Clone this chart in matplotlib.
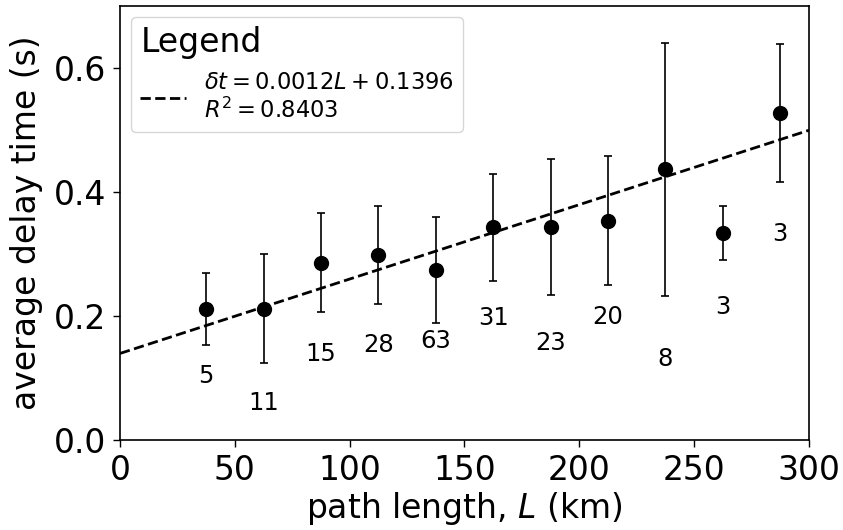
import numpy as np
import matplotlib
matplotlib.use("Agg")
import matplotlib.pyplot as plt

# binned path lengths (km), mean delay (s), std error, sample counts
path_len = [37.5, 62.5, 87.5, 112.5, 137.5, 162.5, 187.5, 212.5, 237.5, 262.5, 287.5]
mean_delay = [0.212, 0.212, 0.286, 0.298, 0.274, 0.343, 0.344, 0.354, 0.437, 0.334, 0.527]
delay_err = [0.058, 0.088, 0.080, 0.079, 0.086, 0.086, 0.110, 0.104, 0.204, 0.043, 0.111]
counts = [5, 11, 15, 28, 63, 31, 23, 20, 8, 3, 3]
count_y = [0.104, 0.060, 0.139, 0.153, 0.159, 0.197, 0.156, 0.199, 0.130, 0.215, 0.332]

# linear fit
slope = 0.0012
intercept = 0.1396
r2 = 0.8403

fig = plt.figure(figsize=(8.43, 5.30), dpi=100)
ax = fig.add_axes([0.1423, 0.1698, 0.8174, 0.8189])

ax.errorbar(path_len, mean_delay, yerr=delay_err, fmt='o', color='black',
            markersize=10, capsize=3, elinewidth=1.2, capthick=1.2)

xs = np.array([0, 300])
ax.plot(xs, slope * xs + intercept, 'k--', linewidth=2,
        label=r'$\delta t = %.4fL + %.4f$' % (slope, intercept) + '\n' + r'$R^2 = %.4f$' % r2)

for x, y, n in zip(path_len, count_y, counts):
    ax.text(x, y, str(n), ha='center', va='center', fontsize=17.5)

ax.set_xlim(0, 300)
ax.set_ylim(0, 0.7)
ax.set_yticks([0.0, 0.2, 0.4, 0.6])
ax.tick_params(labelsize=23.8, length=5, width=1, pad=5)
ax.set_xlabel(r'path length, $L$ (km)', fontsize=23.8, labelpad=2)
ax.set_ylabel('average delay time (s)', fontsize=23.8, labelpad=8)
for s in ax.spines.values():
    s.set_linewidth(1.2)

leg = ax.legend(title='Legend', loc='upper left', fontsize=16.3, title_fontsize=23.8,
                alignment='left')

fig.savefig('out.png', dpi=100)
